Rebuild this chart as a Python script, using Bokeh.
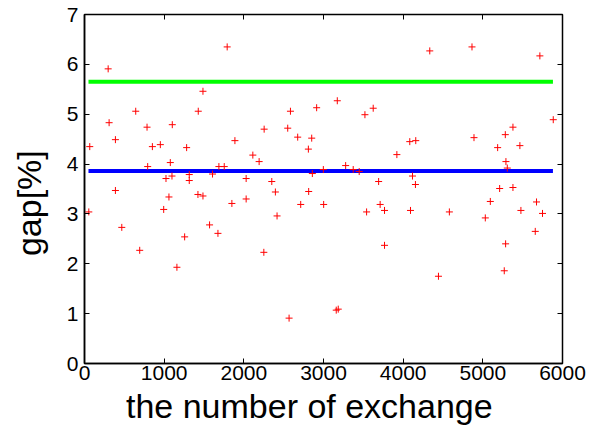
from bokeh.plotting import figure
from bokeh.models import LinearAxis, FixedTicker, ColumnDataSource
from bokeh.embed import file_html
from bokeh.resources import INLINE

# data
exchange = [1791, 297, 1487, 643, 1428, 2585, 2914, 309, 785, 1102, 2255, 2551, 388, 66,
            852, 952, 1282, 1888, 2676, 2852, 2810, 2113, 2192, 793, 1077, 1687, 1754, 2860,
            1023, 1098, 1315, 1315, 1607, 2029, 2351, 388, 2814,
            4334, 4864, 5716, 3173, 3624, 3520, 5884, 5378, 5282, 4889, 4083, 4158, 5186,
            5465, 3921, 5290, 5307, 3278, 2998, 3373, 3448, 4117, 3692, 4154, 5211, 5378,
            54, 468, 693, 994, 1060, 1160, 1257, 1424, 1487, 1570, 1675, 1850, 2029, 2251,
            2417, 2396, 2568, 2714, 3002,
            3541, 3711, 3766, 3766, 4092, 4580, 4443, 3160, 3185, 5031, 5094, 5286, 5269,
            5478, 5674, 5658, 5749]
gap = [6.35, 5.91, 5.46, 5.06, 5.06, 5.06, 5.13, 4.83, 4.74, 4.79, 4.70, 4.72, 4.49, 4.35,
       4.35, 4.39, 4.33, 4.47, 4.54, 4.52, 4.30, 4.18, 4.05, 3.95, 4.03, 3.95, 3.95, 3.81,
       3.71, 3.76, 3.79, 3.67, 3.80, 3.71, 3.65, 3.47, 3.45,
       6.27, 6.35, 6.17, 5.27, 5.12, 4.99, 4.89, 4.74, 4.59, 4.53, 4.45, 4.47, 4.33,
       4.37, 4.19, 4.05, 3.92, 3.97, 3.89, 3.89, 3.85, 3.76, 3.65, 3.59, 3.51, 3.53,
       3.04, 2.73, 2.27, 3.09, 3.34, 1.93, 2.54, 3.39, 3.36, 2.78, 2.61, 3.21, 3.30, 2.23,
       2.96, 3.44, 0.91, 3.19, 3.19,
       3.04, 3.19, 3.07, 2.37, 3.07, 3.04, 1.75, 1.07, 1.09, 2.92, 3.25, 2.40, 1.86,
       3.07, 3.24, 2.65, 3.01]

line_x = [50, 5880]
green_level = 5.65
blue_level = 3.86

x_ticks = [0, 1000, 2000, 3000, 4000, 5000, 6000]
y_ticks = [0, 1, 2, 3, 4, 5, 6, 7]

FONT = "Liberation Sans"
PAD = "\u00a0" * 3  # shifts the axis titles toward the origin, as in the reference

p = figure(width=590, height=428, x_range=(0, 6000), y_range=(0, 7),
           output_backend="svg", toolbar_location=None,
           min_border_left=84, min_border_right=28, min_border_top=14, min_border_bottom=65)
p.xgrid.visible = False
p.ygrid.visible = False
p.outline_line_color = "black"
p.outline_line_width = 1.5
p.background_fill_color = "white"
p.border_fill_color = "white"

p.line(line_x, [green_level, green_level], line_color="#00ff00", line_width=4)
p.line(line_x, [blue_level, blue_level], line_color="#0000ff", line_width=4)

src = ColumnDataSource(dict(x=exchange, y=gap))
p.scatter("x", "y", source=src, marker="cross", size=7, line_color="#ff0000", line_width=1)

for ax in (p.xaxis[0], p.yaxis[0]):
    ax.major_tick_in = 5
    ax.major_tick_out = 0
    ax.minor_tick_in = 0
    ax.minor_tick_out = 0
    ax.axis_line_width = 1.5
    ax.major_tick_line_width = 1
    ax.major_label_text_font = FONT
    ax.major_label_text_font_size = "21px"
    ax.major_label_text_color = "black"
    ax.axis_label_text_font = FONT
    ax.axis_label_text_font_size = "34px"
    ax.axis_label_text_font_style = "normal"
    ax.axis_label_text_color = "black"

p.xaxis.ticker = FixedTicker(ticks=x_ticks)
p.yaxis.ticker = FixedTicker(ticks=y_ticks)
p.xaxis.axis_label = "the number of exchange" + PAD
p.yaxis.axis_label = "gap[%]" + PAD
p.xaxis.major_label_standoff = 2
p.xaxis.axis_label_standoff = 4
p.yaxis.major_label_standoff = 6
p.yaxis.axis_label_standoff = 16

top = LinearAxis(ticker=FixedTicker(ticks=x_ticks),
                 major_label_overrides={t: "" for t in x_ticks})
right = LinearAxis(ticker=FixedTicker(ticks=y_ticks),
                   major_label_overrides={t: "" for t in y_ticks})
for ax in (top, right):
    ax.major_tick_in = 5
    ax.major_tick_out = 0
    ax.minor_tick_in = 0
    ax.minor_tick_out = 0
    ax.axis_line_color = None
    ax.major_label_standoff = 0
p.add_layout(top, "above")
p.add_layout(right, "right")

open("out.html", "w").write(file_html(p, INLINE))
